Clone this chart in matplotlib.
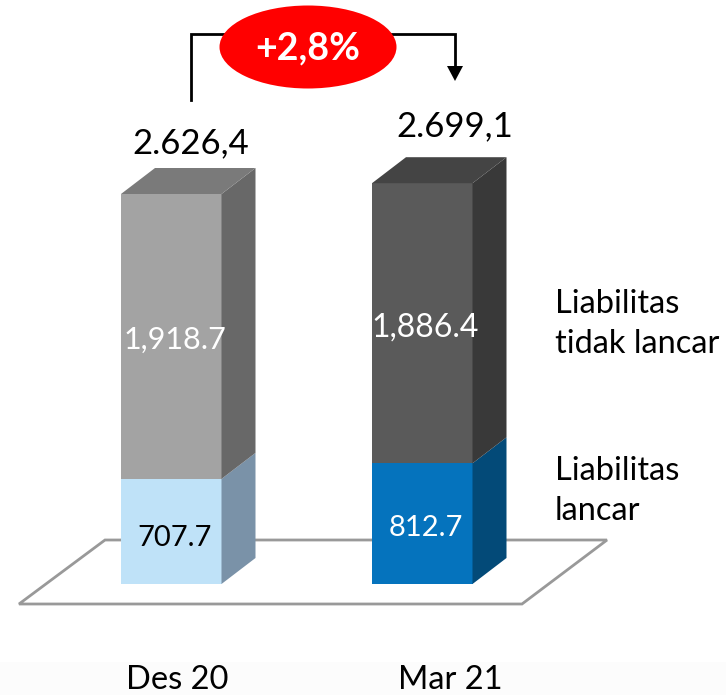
import matplotlib
matplotlib.use("Agg")
import matplotlib.pyplot as plt
from matplotlib.patches import Ellipse, Polygon

###############################################
# Data
###############################################

categories = ["Des 20", "Mar 21"]
lancar = [707.7, 812.7]
tidak_lancar = [1918.7, 1886.4]
lancar_labels = ["707.7", "812.7"]
tidak_lancar_labels = ["1,918.7", "1,886.4"]
total_labels = ["2.626,4", "2.699,1"]
growth_label = "+2,8%"
series_names = ["Liabilitas\ntidak lancar", "Liabilitas\nlancar"]

###############################################
# Config
###############################################

W, H = 726, 695
PX_PER_UNIT = 390 / 2626.4
BASE_PX = 584
BAR_LEFT = [121, 372]
BAR_W = 100.5
DEPTH_X = 34
DEPTH_PX = 26

lancar_colors = [("#bfe2f8", "#7a92a8", "#7a92a8"), ("#0573bd", "#034a78", "#034a78")]
tidak_colors = [("#a3a3a3", "#686868", "#7a7a7a"), ("#5a5a5a", "#393939", "#444444")]
FONT = "Lato"


def y_px(p):
    # pixel row of the reference -> value units of the axes
    return (BASE_PX - p) / PX_PER_UNIT


def box(ax, x0, low, high, colors, top=False):
    front, side, cap = colors
    dy = DEPTH_PX / PX_PER_UNIT
    x1 = x0 + BAR_W
    ax.bar(x0, high - low, BAR_W, bottom=low, align="edge", color=front, linewidth=0, zorder=3)
    ax.add_patch(Polygon([(x1, low), (x1 + DEPTH_X, low + dy), (x1 + DEPTH_X, high + dy), (x1, high)],
                         closed=True, fc=side, ec="none", zorder=3))
    if top:
        ax.add_patch(Polygon([(x0, high), (x0 + DEPTH_X, high + dy), (x1 + DEPTH_X, high + dy), (x1, high)],
                             closed=True, fc=cap, ec="none", zorder=3))


def main():
    plt.rcParams["font.family"] = [FONT, "DejaVu Sans"]
    fig = plt.figure(figsize=(W / 100, H / 100), dpi=100)
    ax = fig.add_axes([0, 0, 1, 1])
    ax.set_xlim(0, W)
    ax.set_ylim(y_px(H), y_px(0))
    ax.axis("off")

    # faint band at the bottom of the slide
    ax.axhspan(y_px(H), y_px(662), color="#fcfcfc", lw=0, zorder=0)

    # floor
    ax.add_patch(Polygon([(19, y_px(604)), (522, y_px(604)), (607, y_px(540)), (105, y_px(540))],
                         closed=True, fc="white", ec="#999999", lw=2, zorder=1))

    for i in range(2):
        x0 = BAR_LEFT[i]
        box(ax, x0, 0, lancar[i], lancar_colors[i])
        box(ax, x0, lancar[i], lancar[i] + tidak_lancar[i], tidak_colors[i], top=True)
        ax.text([174.5, 426][i], y_px([538, 528][i]), lancar_labels[i], fontsize=21, ha="center", va="center",
                color="black" if i == 0 else "white", zorder=4)
        ax.text([175.5, 425.5][i], y_px([340, 328][i]), tidak_lancar_labels[i], fontsize=[22, 23][i], ha="center",
                va="center", color="white", zorder=4)
        ax.text([177, 450][i], y_px(680), categories[i], fontsize=23.5, ha="center", va="center", color="black")

    ax.text(191, y_px(143), total_labels[0], fontsize=25, ha="center", va="center", color="black")
    ax.text(455, y_px(126), total_labels[1], fontsize=25, ha="center", va="center", color="black")

    ax.text(555, y_px(324), series_names[0], fontsize=23.5, ha="left", va="center", linespacing=1.4, color="black")
    ax.text(555, y_px(491), series_names[1], fontsize=23.5, ha="left", va="center", linespacing=1.4, color="black")

    # growth bracket
    ax.plot([191, 191, 455, 455], [y_px(100), y_px(34), y_px(34), y_px(68)], color="black", lw=2, zorder=5,
            solid_joinstyle="miter")
    ax.add_patch(Polygon([(447, y_px(66)), (463, y_px(66)), (455, y_px(81))], closed=True, fc="black", ec="none", zorder=5))
    ax.add_patch(Ellipse((308, y_px(47)), 177, y_px(5) - y_px(88), fc="#ff0000", ec="none", zorder=6))
    ax.text(308, y_px(48), growth_label, fontsize=27, fontweight="bold", ha="center", va="center", color="white", zorder=7)

    fig.savefig("out.png", dpi=100)


if __name__ == "__main__":
    main()
